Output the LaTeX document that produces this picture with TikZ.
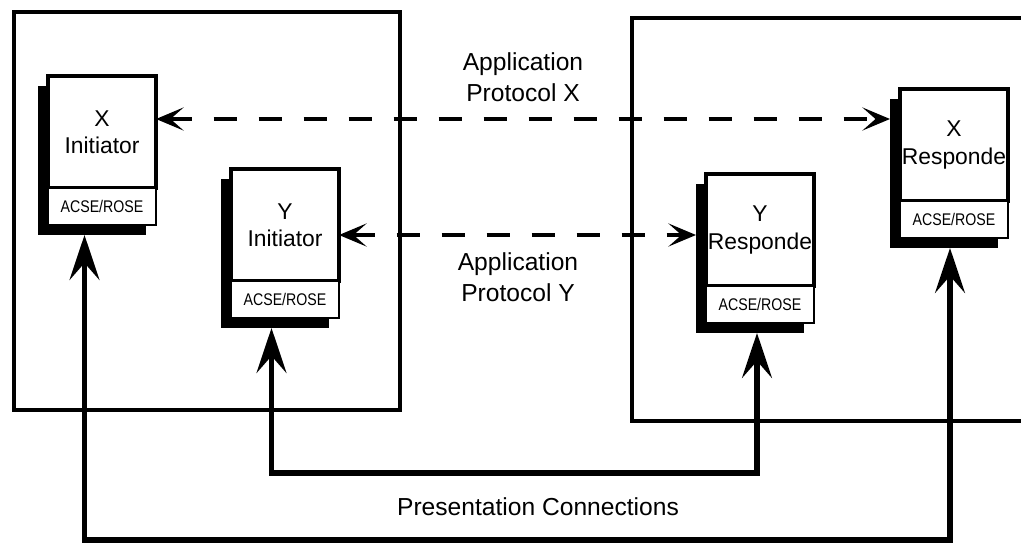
\documentclass[tikz,border=0pt]{standalone}
\usepackage{fontspec}
\setmainfont{Liberation Sans}
\newfontfamily\narrowsans[FakeStretch=0.84]{Liberation Sans}
\usepackage{tikz}
\usetikzlibrary{positioning, arrows.meta, backgrounds}
\tikzstyle{sysbox} = [line width=2.8pt]
\tikzstyle{agent} = [rectangle, minimum width=21.6mm, minimum height=22.4mm, outer sep=0pt, align=center, inner sep=1pt, draw=black, fill=white, line width=1.8pt, font=\fontsize{13}{15.5}\selectfont]
\tikzstyle{acse} = [rectangle, minimum width=21.6mm, minimum height=7.4mm, outer sep=0pt, draw=black, fill=white, line width=1.6pt, font=\fontsize{9.6}{11}\narrowsans]
\tikzstyle{conn} = [line width=3pt, <->, >={Stealth[length=9mm,width=6mm,inset=3.4mm]}]
\tikzstyle{dasharrow} = [line width=2.2pt, dash pattern=on 4.6mm off 4.4mm, <->, >={Stealth[length=5.5mm,width=4.6mm,inset=2.6mm]}]
\tikzstyle{protext} = [align=center, font=\fontsize{14}{17.6}\selectfont]

\begin{document}
\begin{tikzpicture}[x=0.2mm, y=-0.2mm]
\clip (0,0) rectangle (1021,549);

%Systems==============================================
\draw [sysbox] (14,12) rectangle (400,410);
\draw [sysbox] (1040,18) -| (632,421) -- (1040,421);

%Initiator X==============================================
\node (xi) [agent] at (102,132) {X\\Initiator};
\node (xi-acse) [acse, below=0pt of xi] {ACSE/ROSE};

%Initiator Y==============================================
\node (yi) [agent] at (285,225) {Y\\Initiator};
\node (yi-acse) [acse, below=0pt of yi] {ACSE/ROSE};

%Responder Y==============================================
\node (yr) [agent] at (760,230) {Y\\Responde};
\node (yr-acse) [acse, below=0pt of yr] {ACSE/ROSE};

%Responder X==============================================
\node (xr) [agent] at (954,145) {X\\Responde};
\node (xr-acse) [acse, below=0pt of xr] {ACSE/ROSE};

\begin{scope}[on background layer]
\foreach \n in {xi,yi,yr,xr}
  \fill ([shift={(-10,10)}]\n.north west) rectangle ([shift={(-10,10)}]\n-acse.south east);
\end{scope}

%Labels==============================================
\node (apx) [protext] at (523,77) {Application\\Protocol X};
\node (apy) [protext] at (518,277) {Application\\Protocol Y};
\node (pc) [protext] at (538,507) {Presentation Connections};

%==============================================
\draw [dasharrow] ([yshift=2.6mm]xi.east) -- ([xshift=-2mm,yshift=2.6mm]xi.east -| xr.west);
\draw [dasharrow] ([yshift=-2mm]yi.east) -- ([xshift=-2mm,yshift=-2mm]yi.east -| yr.west);

\coordinate (ybus) at (0,473);
\coordinate (xbus) at (0,540);
\coordinate (xi-in) at ([xshift=-3.5mm,yshift=-2mm]xi-acse.south);
\coordinate (yi-in) at ([xshift=-2.7mm,yshift=-2mm]yi-acse.south);
\coordinate (yr-in) at ([xshift=-0.6mm,yshift=-2mm]yr-acse.south);
\coordinate (xr-in) at ([xshift=-0.8mm,yshift=-2mm]xr-acse.south);
\draw [conn] (yi-in) -- (yi-in |- ybus) -| (yr-in);
\draw [conn] (xi-in) -- (xi-in |- xbus) -| (xr-in);
\end{tikzpicture}
\end{document}
